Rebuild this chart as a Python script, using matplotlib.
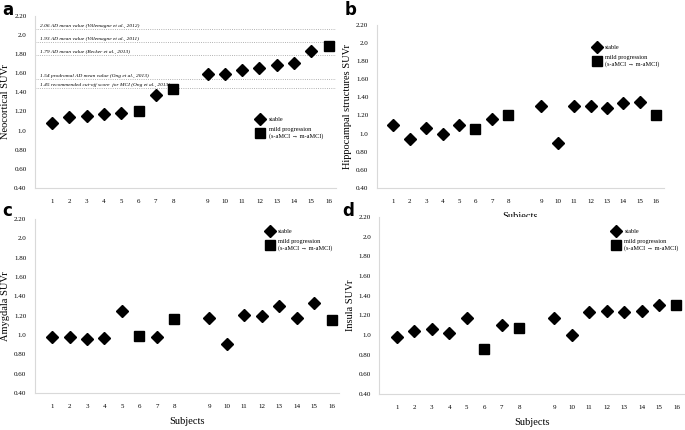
import numpy as np
import matplotlib
matplotlib.use('Agg')
import matplotlib.pyplot as plt
from matplotlib.lines import Line2D

plt.rcParams['font.family'] = ['Liberation Serif', 'DejaVu Serif']

# subjects 1-8 and 9-16, drawn with a gap between the two groups
subjects = list(range(1, 17))
positions = [1, 2, 3, 4, 5, 6, 7, 8, 10, 11, 12, 13, 14, 15, 16, 17]
progressed = [6, 8, 16]

neocortical = [1.08, 1.14, 1.15, 1.17, 1.18, 1.20, 1.37, 1.44,
               1.59, 1.59, 1.63, 1.66, 1.69, 1.71, 1.83, 1.89]
hippocampal = [1.10, 0.94, 1.06, 1.00, 1.09, 1.05, 1.16, 1.21,
               1.31, 0.90, 1.30, 1.30, 1.28, 1.34, 1.35, 1.20]
amygdala = [0.98, 0.98, 0.96, 0.97, 1.25, 0.99, 0.98, 1.17,
            1.18, 0.91, 1.21, 1.20, 1.30, 1.18, 1.33, 1.15]
insula = [0.98, 1.04, 1.06, 1.02, 1.17, 0.86, 1.10, 1.07,
          1.17, 1.00, 1.23, 1.24, 1.23, 1.24, 1.31, 1.31]

ref_values = [2.06, 1.93, 1.79, 1.54, 1.45]
ref_labels = ['2.06 AD mean value (Villemagne et al., 2012)',
              '1.93 AD mean value (Villemagne et al., 2011)',
              '1.79 AD mean value (Becker et al., 2013)',
              '1.54 prodromal AD mean value (Ong et al., 2013)',
              '1.45 recommended cut-off score  for MCI (Ong et al., 2013)']

yticks = [0.40, 0.60, 0.80, 1.0, 1.20, 1.40, 1.60, 1.80, 2.0, 2.20]
ytick_labels = ['0.40', '0.60', '0.80', '1.0', '1.20', '1.40', '1.60', '1.80', '2.0', '2.20']


def draw_panel(ax, values, ylabel, legend_anchor, xlabel=True):
    xs = np.array(positions)
    vals = np.array(values)
    is_prog = np.isin(subjects, progressed)
    ax.plot(xs[~is_prog], vals[~is_prog], 'D', color='black', markersize=5.8, linestyle='none')
    ax.plot(xs[is_prog], vals[is_prog], 's', color='black', markersize=7, linestyle='none')
    ax.set_xlim(0, 17.45)
    ax.set_ylim(0.40, 2.20)
    ax.set_yticks(yticks)
    ax.set_yticklabels(ytick_labels)
    ax.set_xticks(positions)
    ax.set_xticklabels([str(s) for s in subjects])
    ax.tick_params(length=0, labelsize=5, pad=8)
    ax.tick_params(axis='y', pad=6)
    for side in ['top', 'right']:
        ax.spines[side].set_visible(False)
    for side in ['left', 'bottom']:
        ax.spines[side].set_color('#d9d9d9')
        ax.spines[side].set_linewidth(0.8)
    ax.set_ylabel(ylabel, fontsize=7.5, labelpad=3)
    if xlabel:
        ax.set_xlabel('Subjects', fontsize=7.5, labelpad=6)
    handles = [Line2D([], [], marker='D', color='black', linestyle='none', markersize=5.8),
               Line2D([], [], marker='s', color='black', linestyle='none', markersize=7)]
    ax.legend(handles, ['stable', 'mild progression\n(s-aMCI \u2192 m-aMCI)'],
              loc='upper left', bbox_to_anchor=legend_anchor, frameon=False,
              fontsize=4.5, handletextpad=0.7, labelspacing=0.8, handlelength=1.2)


fig = plt.figure(figsize=(6.85, 4.3), dpi=100)

ax_a = fig.add_axes([0.051, 0.563, 0.440, 0.400])
ax_b = fig.add_axes([0.550, 0.563, 0.419, 0.379])
ax_c = fig.add_axes([0.0505, 0.086, 0.445, 0.405])
ax_d = fig.add_axes([0.554, 0.084, 0.445, 0.411])

draw_panel(ax_a, neocortical, 'Neocortical SUVr', (0.717, 0.445), xlabel=False)
draw_panel(ax_b, hippocampal, 'Hippocampal structures SUVr', (0.734, 0.913))
draw_panel(ax_c, amygdala, 'Amygdala SUVr', (0.74, 0.977))
draw_panel(ax_d, insula, 'Insula SUVr', (0.746, 0.965))

for v, lab in zip(ref_values, ref_labels):
    ax_a.axhline(v, color='#999999', linestyle=':', linewidth=0.6, zorder=0)
    ax_a.text(0.3, v + 0.01, lab, fontsize=3.9, style='italic', va='bottom', ha='left')

# panel letters
for x, y, letter in [(0.004, 0.955, 'a'), (0.503, 0.955, 'b'),
                     (0.004, 0.488, 'c'), (0.500, 0.488, 'd')]:
    fig.text(x, y, letter, fontsize=12, fontweight='bold', family='DejaVu Sans',
             va='bottom', ha='left')

fig.savefig('out.png', dpi=100)
